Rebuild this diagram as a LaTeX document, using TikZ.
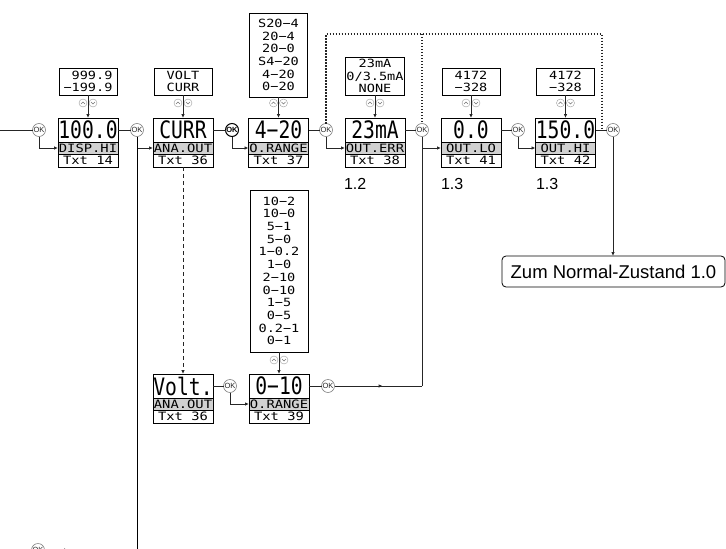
\documentclass[tikz,border=0pt]{standalone}
\usepackage{fontspec}
\setsansfont{Liberation Sans}
\newfontfamily\lcdbig[FakeStretch=0.82]{DejaVu Sans Mono}
\newfontfamily\lcd[FakeStretch=1.2]{DejaVu Sans Mono}
\usetikzlibrary{positioning,arrows.meta,decorations.markings}

\begin{document}
\begin{tikzpicture}[x=1pt,y=-1pt,
  every node/.style={outer sep=0pt},
  con/.style={draw=black!85, line width=0.9pt},
  arr/.style={con, -{Latex[length=4pt,width=3.5pt]}},
  mid/.style={con, postaction={decorate}, decoration={markings, mark=at position 0.55 with {\arrow{Latex[length=4pt,width=3.5pt]}}}},
  dots/.style={draw=black!85, line width=1.2pt, dash pattern=on 1.4pt off 1.6pt},
  val/.style={draw, minimum width=60pt, minimum height=24pt, inner sep=0pt, font=\lcdbig\fontsize{24}{24}\selectfont},
  lbl/.style={draw, fill=black!18, minimum width=60pt, minimum height=12pt, inner sep=0pt, font=\lcd\fontsize{11.5}{11.5}\selectfont},
  txt/.style={draw, minimum width=60pt, minimum height=13pt, inner sep=0pt, font=\lcd\fontsize{11.5}{11.5}\selectfont},
  opt/.style={draw, anchor=south, minimum width=58pt, inner xsep=1pt, inner ysep=3pt, align=center, font=\lcd\fontsize{11.3}{12.7}\selectfont},
  ok/.style={circle, draw=black!50, line width=0.6pt, minimum size=13pt, inner sep=0pt, font=\sffamily\fontsize{7.5}{7.5}\selectfont, text=black!85},
  okb/.style={ok, draw=black, line width=1pt, font=\sffamily\bfseries\fontsize{7.5}{7.5}\selectfont, text=black},
  upk/.style={circle, draw=black!40, minimum size=8pt, inner sep=0pt, path picture={\draw[black!55, line width=0.5pt] ([shift={(-2pt,-1pt)}]path picture bounding box.center) -- ++(2pt,2pt) -- ++(2pt,-2pt);}},
  dnk/.style={circle, draw=black!40, minimum size=8pt, inner sep=0pt, path picture={\draw[black!55, line width=0.5pt] ([shift={(-2pt,1pt)}]path picture bounding box.center) -- ++(2pt,-2pt) -- ++(2pt,2pt);}},
  ver/.style={anchor=west, inner sep=0pt, font=\sffamily\fontsize{16}{16}\selectfont},
  normal/.style={draw, line width=0.8pt, rounded corners=4pt, minimum width=223pt, minimum height=31pt, inner sep=0pt, font=\sffamily\fontsize{18.5}{18.5}\selectfont}]
\useasboundingbox (0,0) rectangle (726,549);

% DISP.HI
\node[val] (dhi) at (88,130) {100.0};
\node[lbl, below=0pt of dhi] (dhil) {DISP.HI};
\node[txt, below=0pt of dhil] (dhit) {Txt 14};
\node[opt, align=right] (dhio) at (88,95) {999.9\\−199.9};
\node[upk] (dhiu) at (83,103) {};
\node[dnk] (dhid) at (93,103) {};

% ANA.OUT
\node[val] (ana) at (183,130) {CURR};
\node[lbl, below=0pt of ana] (anal) {ANA.OUT};
\node[txt, below=0pt of anal] (anat) {Txt 36};
\node[opt] (anao) at (183,95) {VOLT\\CURR};
\node[upk] (anau) at (178,103) {};
\node[dnk] (anad) at (188,103) {};

% O.RANGE (Strom)
\node[val] (rng) at (278.5,130) {4−20};
\node[lbl, below=0pt of rng] (rngl) {O.RANGE};
\node[txt, below=0pt of rngl] (rngt) {Txt 37};
\node[opt, inner ysep=6pt] (rngo) at (278.5,97) {S20−4\\20−4\\20−0\\S4−20\\4−20\\0−20};
\node[upk] (rngu) at (273.5,103) {};
\node[dnk] (rngd) at (283.5,103) {};

% OUT.ERR
\node[val] (err) at (375,130) {23mA};
\node[lbl, below=0pt of err] (errl) {OUT.ERR};
\node[txt, below=0pt of errl] (errt) {Txt 38};
\node[opt, inner ysep=2pt] (erro) at (375,95) {23mA\\0/3.5mA\\NONE};
\node[upk] (erru) at (370,103) {};
\node[dnk] (errd) at (380,103) {};
\node[ver] (errv) at (344,184) {1.2};

% OUT.LO
\node[val] (lo) at (471,130) {0.0};
\node[lbl, below=0pt of lo] (lol) {OUT.LO};
\node[txt, below=0pt of lol] (lot) {Txt 41};
\node[opt] (loo) at (471,95) {4172\\−328};
\node[upk] (lou) at (466,103) {};
\node[dnk] (lod) at (476,103) {};
\node[ver] (lov) at (441,184) {1.3};

% OUT.HI
\node[val] (hi) at (565.5,130) {150.0};
\node[lbl, below=0pt of hi] (hil) {OUT.HI};
\node[txt, below=0pt of hil] (hit) {Txt 42};
\node[opt] (hio) at (565.5,95) {4172\\−328};
\node[upk] (hiu) at (560.5,103) {};
\node[dnk] (hid) at (570.5,103) {};
\node[ver] (hiv) at (536,184) {1.3};

% Spannung
\node[val] (volt) at (183,386) {Volt.};
\node[lbl, below=0pt of volt] (voltl) {ANA.OUT};
\node[txt, below=0pt of voltl] (voltt) {Txt 36};

\node[val] (rngv) at (279,386) {0−10};
\node[lbl, below=0pt of rngv] (rngvl) {O.RANGE};
\node[txt, below=0pt of rngvl] (rngvt) {Txt 39};
\node[opt, inner ysep=7pt] (rngvo) at (279,352) {10−2\\10−0\\5−1\\5−0\\1−0.2\\1−0\\2−10\\0−10\\1−5\\0−5\\0.2−1\\0−1};
\node[upk] (rngvu) at (274,360) {};
\node[dnk] (rngvd) at (284,360) {};

% OK-Tasten
\node[ok] (ok1) at (39,130) {OK};
\node[ok] (ok2) at (137,130) {OK};
\node[okb] (ok3) at (232,130) {OK};
\node[ok] (ok4) at (326,130) {OK};
\node[ok] (ok5) at (422,130) {OK};
\node[ok] (ok6) at (518,130) {OK};
\node[ok] (ok7) at (613,130) {OK};
\node[ok] (ok8) at (230,386) {OK};
\node[ok] (ok9) at (328,386) {OK};

\node[normal] (normal) at (613.5,271.5) {Zum Normal-Zustand 1.0};

\node[ok] (legok) at (38,550) {OK};

\coordinate (in) at (0,130);
\coordinate (out) at (137,549);
\coordinate (jmp) at (602,130);
\coordinate (jmptop) at (602,34);
\coordinate (legend) at (68,550);

% Auswahl
\draw[arr] (dhio) -- (dhi);
\draw[arr] (anao) -- (ana);
\draw[arr] (rngo) -- (rng);
\draw[arr] (erro) -- (err);
\draw[arr] (loo) -- (lo);
\draw[arr] (hio) -- (hi);
\draw[arr] (rngvo) -- (rngv);

% Ablauf
\draw[con] (in) -- (ok1);
\draw[arr] (ok1) |- (dhil);
\draw[con] (dhi) -- (ok2);
\draw[arr] (ok2) |- (anal);
\draw[con, draw=black] (ok2) -- (out);
\draw[con] (ana) -- (ok3);
\draw[arr] (ok3) |- (rngl);
\draw[con] (rng) -- (ok4);
\draw[arr] (ok4) |- (errl);
\draw[con] (err) -- (ok5);
\draw[arr] (ok5) |- (lol);
\draw[con] (lo) -- (ok6);
\draw[arr] (ok6) |- (hil);
\draw[con] (hi) -- (ok7);
\draw[arr] (ok7) -- (ok7 |- normal.north);

\draw[dots] (ok4) |- (jmptop) -- (jmp);
\draw[dots] (ok5 |- jmptop) -- (ok5);

\draw[arr, dash pattern=on 4pt off 3pt, line width=1pt] (anat) -- (volt);
\draw[con] (volt) -- (ok8);
\draw[arr] (ok8) |- (rngvl);
\draw[con] (rngv) -- (ok9);
\draw[mid] (ok9) -- (ok5 |- ok9);
\draw[con] (ok5 |- ok9) -- (ok5);

\draw[arr] (legok) -- (legend);
\end{tikzpicture}
\end{document}
